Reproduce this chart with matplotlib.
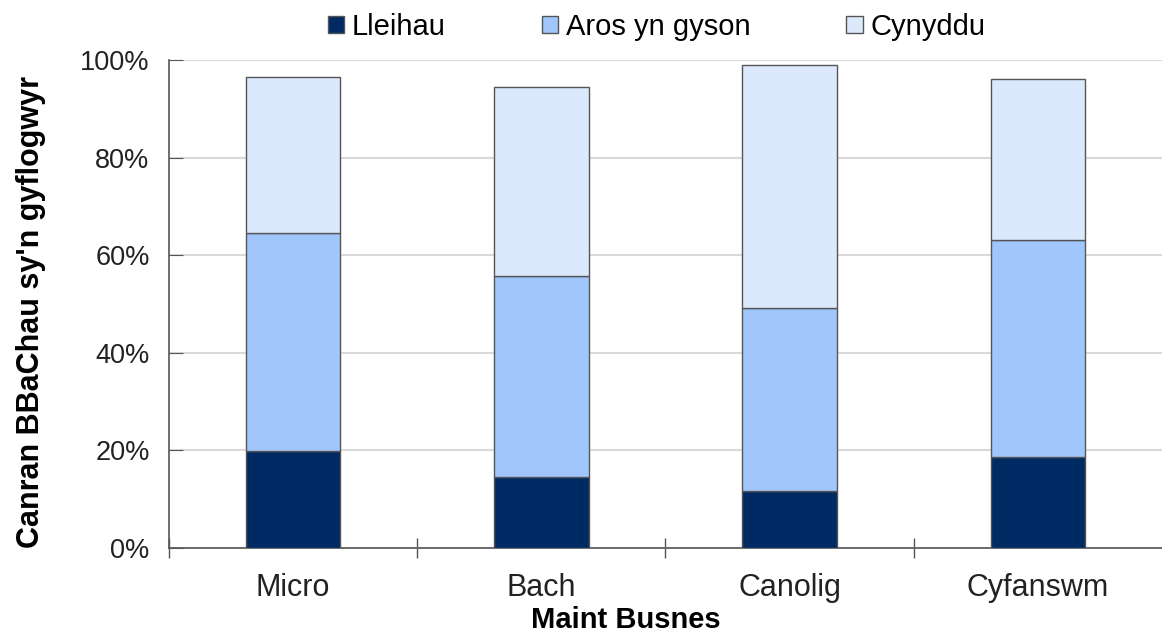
import matplotlib
matplotlib.use("Agg")
import matplotlib.pyplot as plt
import numpy as np
from matplotlib.ticker import PercentFormatter

categories = ["Micro", "Bach", "Canolig", "Cyfanswm"]
lleihau = [19.8, 14.6, 11.6, 18.6]
aros = [44.7, 41.1, 37.6, 44.5]
cynyddu = [32.0, 38.7, 49.7, 33.1]
series_names = ["Lleihau", "Aros yn gyson", "Cynyddu"]
colors = ["#002a64", "#a0c6fc", "#dce9fd"]

plt.rcParams['font.family'] = ['Liberation Sans', 'DejaVu Sans']

fig = plt.figure(figsize=(11.62, 6.32), dpi=100)
ax = fig.add_axes([0.1454, 0.133, 0.8546, 0.772])

x = np.arange(len(categories))
w = 0.38
bottom = np.zeros(len(categories))
for vals, name, c in zip([lleihau, aros, cynyddu], series_names, colors):
    ax.bar(x, vals, w, bottom=bottom, color=c, edgecolor="#555555", linewidth=1.0,
           label=name, zorder=3)
    bottom += np.array(vals)

ax.set_xlim(-0.5, len(categories) - 0.5)
ax.set_ylim(0, 100)
ax.set_yticks(np.arange(0, 101, 20))
ax.yaxis.set_major_formatter(PercentFormatter(decimals=0))
ax.grid(axis="y", color="#d9d9d9", linewidth=1.5, zorder=0)
ax.set_axisbelow(True)

ax.set_xticks(x)
ax.set_xticklabels(categories)
ax.set_xticks(np.arange(-0.5, len(categories) - 0.6, 1), minor=True)
ax.tick_params(axis="x", which="major", length=0, pad=18, labelsize=22, colors="#222222")
ax.tick_params(axis="x", which="minor", length=14, direction="inout", color="#555555", width=1)
ax.tick_params(axis="y", length=10, direction="in", color="#555555", labelsize=19.5,
               labelcolor="#222222", pad=14)

for s in ["top", "right"]:
    ax.spines[s].set_visible(False)
for s in ["left", "bottom"]:
    ax.spines[s].set_color("#555555")
    ax.spines[s].set_linewidth(1.2)

ax.set_xlabel("Maint Busnes", fontsize=21, fontweight="bold")
ax.xaxis.set_label_coords(0.46, -0.119)
ax.set_ylabel("Canran BBaChau sy'n gyflogwyr", fontsize=22, fontweight="bold")
ax.yaxis.set_label_coords(-0.124, 0.484)

leg = ax.legend(loc="center", bbox_to_anchor=(0.491, 1.068), ncol=3, frameon=False,
                fontsize=21, handlelength=0.55, handleheight=0.55, handletextpad=0.27,
                columnspacing=3.3, borderaxespad=0)

fig.savefig("out.png", dpi=100)
